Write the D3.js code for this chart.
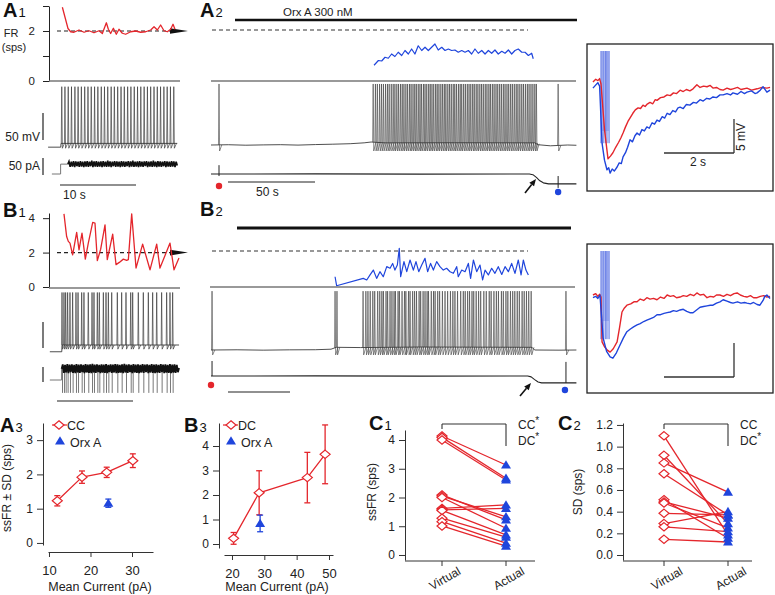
<!DOCTYPE html>
<html><head><meta charset="utf-8">
<script src="https://cdn.jsdelivr.net/npm/d3@7"></script>
<style>body{margin:0;background:#fff}svg{display:block}</style>
</head><body>
<svg id="c" width="775" height="595"></svg>
<script>
// ================= DATA =================
// A1: virtual firing rate (t s, sps), spike times (s), voltage baseline (t, mV), injected current (t, pA)
const a1FR = [[0.18,2.95],[0.92,2.1],[1.27,1.97],[1.71,1.95],[2.37,2.04],[3.03,1.95],[3.68,2.01],[4.34,1.93],[5.0,2.01],[5.44,1.9],[5.97,2.33],[6.23,2.07],[6.53,1.9],[6.89,2.11],[7.28,1.87],[7.63,2.07],[8.07,1.91],[8.51,1.87],[9.17,1.97],[9.82,2.0],[10.48,1.95],[11.14,1.97],[11.8,2.04],[12.24,2.17],[12.68,2.04],[13.11,2.24],[13.55,2.01],[13.99,1.97],[14.43,2.07],[14.74,2.27],[15.0,2.07]];
const a1Spikes = [0.1,0.52,0.95,1.38,1.83,2.25,2.68,3.12,3.55,3.98,4.42,4.85,5.3,5.72,6.15,6.6,7.02,7.46,7.9,8.33,8.77,9.2,9.64,10.07,10.5,10.94,11.37,11.8,12.24,12.67,13.1,13.54,13.97,14.4,14.84];
const a1VBase = [[-1.7,-4],[-0.03,-4],[0,3],[15.3,3]];
const a1IStep = [[-1.2,0],[-0.05,0],[-0.05,29],[0.9,29]];
const a1INoise = [[0.9,29],[1.05,37],[1.2,21],[1.35,36],[1.5,22],[1.65,38],[1.8,20],[1.95,37],[2.1,23],[2.25,36],[2.4,21],[2.55,38],[2.7,22],[2.85,36],[3.0,20],[3.15,37],[3.3,22],[3.45,38],[3.6,21],[3.75,36],[3.9,23],[4.05,39],[4.2,20],[4.35,37],[4.5,22],[4.65,38],[4.8,21],[4.95,36],[5.1,22],[5.25,37],[5.4,20],[5.55,38],[5.7,22],[5.85,36],[6.0,21],[6.15,39],[6.3,22],[6.45,37],[6.6,20],[6.75,36],[6.9,23],[7.05,38],[7.2,21],[7.35,37],[7.5,22],[7.65,36],[7.8,20],[7.95,38],[8.1,22],[8.25,37],[8.4,21],[8.55,36],[8.7,23],[8.85,38],[9.0,20],[9.15,37],[9.3,22],[9.45,39],[9.6,21],[9.75,36],[9.9,22],[10.05,37],[10.2,20],[10.35,38],[10.5,22],[10.65,36],[10.8,21],[10.95,37],[11.1,23],[11.25,38],[11.4,20],[11.55,36],[11.7,22],[11.85,37],[12.0,21],[12.15,39],[12.3,22],[12.45,36],[12.6,20],[12.75,38],[12.9,22],[13.05,37],[13.2,21],[13.35,36],[13.5,23],[13.65,38],[13.8,20],[13.95,37],[14.1,22],[14.25,36],[14.4,21],[14.55,38],[14.7,22],[14.85,37],[15.0,20],[15.15,36],[15.3,25]];

// A2: actual firing rate with Orx A
const a2FR = [[93.7,0.63],[96.2,0.82],[98.1,0.8],[100,0.95],[101.9,0.91],[103.8,1.08],[105.7,0.98],[107.6,1.15],[109.6,1.02],[111.5,1.22],[113.4,1.08],[115.3,1.28],[117.2,1.08],[119.1,1.41],[121.1,1.22],[123,1.35],[124.9,1.22],[126.8,1.35],[128.7,1.48],[130.6,1.24],[132.6,1.35],[134.5,1.22],[136.4,1.28],[138.3,1.22],[140.2,1.24],[142.1,1.15],[144.1,1.22],[146,1.15],[147.9,1.22],[149.8,1.08],[151.7,1.28],[153.6,1.11],[155.6,1.22],[157.5,1.08],[159.4,1.22],[161.3,1.11],[163.2,1.24],[165.1,1.08],[167.1,1.19],[169,1.11],[170.9,1.24],[172.8,1.08],[174.7,1.22],[176.6,1.28],[178.6,1.15],[180.5,1.15],[182.4,1.02],[184.3,1.11],[185.2,0.89]];
const a2Spikes = [4.6,93.2,94.5,95.6,96.9,98.0,99.1,100.3,101.4,102.4,103.6,104.7,105.7,106.8,107.8,108.9,109.9,110.9,112.0,113.0,114.1,115.0,116.1,117.1,118.0,119.1,120.1,121.0,122.1,123.0,124.0,125.1,126.0,127.0,128.0,129.1,130.0,131.0,132.1,133.1,134.1,135.0,136.1,137.1,138.1,139.2,140.1,141.1,142.2,143.2,144.1,145.2,146.2,147.3,148.3,149.3,150.4,151.3,152.4,153.4,154.5,155.5,156.5,157.6,158.6,159.7,160.6,161.7,162.7,163.8,164.8,165.9,166.9,168.0,169.0,170.1,171.1,172.2,173.2,174.3,175.4,176.4,177.5,178.6,179.6,180.7,181.8,182.8,183.9,185.0,186.1,187.0,199.5];
const a2VBase = [[0,0],[10,0.5],[20,-0.4],[30,0.2],[40,0.6],[50,-0.2],[60,0.8],[70,1.5],[80,2.4],[88,4],[92,5.5],[100,4],[140,4.2],[186,4],[188,0.5],[195,-1.5],[205,0],[210,-0.5]];
const a2I = [[0,0],[60,0.5],[120,-0.5],[183,0],[185,-2],[187,-10],[189,-20],[191,-26],[194,-29],[210,-29]];
const a2IArtifacts = [[4.6,26,-6],[199.5,-6,-41]];

// B1
const b1FR = [[0.26,4.25],[0.61,2.93],[0.83,2.65],[1.05,2.55],[1.4,1.87],[1.93,3.17],[2.24,2.16],[2.63,3.13],[3.07,1.62],[3.46,2.55],[4.04,3.75],[4.34,3.71],[4.65,1.53],[5.09,2.2],[5.66,3.61],[5.96,1.59],[6.67,3.07],[7.11,1.3],[7.54,1.43],[8.07,1.62],[8.51,1.55],[8.73,1.59],[9.17,4.25],[9.74,1.1],[10.61,2.49],[11.58,1.0],[12.46,2.49],[12.89,1.1],[14.21,2.55],[14.74,1.0],[15.39,1.68]];
const b1Spikes = [0.0,0.26,0.48,0.74,1.05,1.4,1.84,2.11,2.59,2.89,3.46,3.95,4.21,4.65,4.91,5.44,5.79,6.1,6.54,7.28,7.85,8.42,9.04,9.3,10.04,10.7,11.36,11.93,12.46,13.11,13.77,14.21,14.56];
const b1VBase = [[-1.6,-13],[-0.03,-13],[0,0],[15.4,0]];
const b1IStep = [[-1.6,0],[-0.05,0],[-0.05,37]];
const b1INoise = [[-0.05,37],[0.1,52],[0.25,24],[0.4,50],[0.55,25],[0.7,53],[0.85,23],[1.0,51],[1.15,26],[1.3,52],[1.45,24],[1.6,50],[1.75,23],[1.9,53],[2.05,25],[2.2,51],[2.35,24],[2.5,52],[2.65,26],[2.8,50],[2.95,23],[3.1,53],[3.25,25],[3.4,51],[3.55,24],[3.7,52],[3.85,23],[4.0,54],[4.15,25],[4.3,51],[4.45,24],[4.6,52],[4.75,26],[4.9,50],[5.05,23],[5.2,52],[5.35,25],[5.5,51],[5.65,24],[5.8,53],[5.95,23],[6.1,50],[6.25,26],[6.4,52],[6.55,24],[6.7,51],[6.85,25],[7.0,53],[7.15,23],[7.3,52],[7.45,24],[7.6,50],[7.75,25],[7.9,52],[8.05,23],[8.2,54],[8.35,25],[8.5,51],[8.65,24],[8.8,52],[8.95,26],[9.1,50],[9.25,23],[9.4,53],[9.55,25],[9.7,51],[9.85,24],[10.0,52],[10.15,23],[10.3,50],[10.45,25],[10.6,53],[10.75,24],[10.9,51],[11.05,26],[11.2,52],[11.35,23],[11.5,50],[11.65,25],[11.8,53],[11.95,24],[12.1,51],[12.25,23],[12.4,52],[12.55,25],[12.7,50],[12.85,24],[13.0,53],[13.15,26],[13.3,51],[13.45,23],[13.6,52],[13.75,25],[13.9,50],[14.05,24],[14.2,53],[14.35,23],[14.5,51],[14.65,25],[14.8,52],[14.95,24],[15.1,50],[15.25,26],[15.4,40]];
const b1IArtifact = -43;

// B2
const b2FR = [[71.3,0.57],[72.2,0.07],[87.5,0.48],[89.5,0.39],[91.4,0.67],[93.3,0.94],[95.2,0.48],[97.1,0.85],[99,0.57],[101,1.13],[102.9,1.04],[104.4,1.31],[105.7,0.94],[107.1,1.22],[108.2,2.15],[109,0.57],[110.9,1.41],[112.5,0.85],[114.4,1.5],[116.3,0.94],[117.8,1.41],[119.4,0.85],[121.1,1.22],[123,1.59],[124.5,0.85],[126.2,1.31],[127.8,0.94],[129.7,1.41],[131.6,1.13],[133.5,0.94],[135.4,1.04],[137.4,0.85],[139.3,0.76],[141.2,1.13],[142.1,0.57],[144.1,0.94],[146,0.85],[147.9,1.31],[149.2,0.48],[150.8,1.5],[152.7,0.85],[154.6,1.22],[156.1,0.39],[157.5,0.94],[159.4,0.67],[161.3,1.04],[163.2,0.76],[165.1,1.13],[167.1,0.7],[169,1.13],[170.9,0.85],[172.8,1.31],[174.7,0.76],[176.6,1.5],[178.2,0.67],[179.5,1.5],[181,0.94],[182.4,0.67]];
const b2Spikes = [0.6,71.3,72.4,87.4,89.0,90.2,91.5,93.0,94.1,95.8,97.0,98.2,99.1,100.6,101.5,102.9,104.0,105.2,106.0,107.5,108.3,109.8,111.2,112.0,113.5,114.4,115.9,117.0,118.1,119.6,120.5,121.9,123.0,124.2,125.0,126.6,127.9,128.8,130.3,131.4,133.0,134.5,136.0,137.6,139.0,140.2,141.7,143.5,145.0,146.1,147.5,148.6,150.0,151.0,152.4,153.8,155.0,156.8,158.2,159.9,161.0,162.6,164.0,165.2,166.9,168.0,169.5,170.6,172.1,173.4,174.6,176.0,177.2,178.8,180.0,181.3,182.6,184.0,204.0];
const b2VBase = [[0,0],[15,0.4],[30,-0.3],[45,0.3],[60,0.5],[69,1.5],[72,5],[86,4.5],[120,5.5],[184.5,5],[186,0],[200,-0.3],[210,0]];
const b2I = [[0,0],[60,0.4],[120,-0.4],[182,0],[184,-3],[186,-12],[188,-20],[190,-23],[210,-23]];
const b2IArtifacts = [[0.6,50,0],[204,47,-23]];

// Insets: averaged post-burst AHP (t s, mV), virtual (red) vs actual (blue)
const stimTimes = [0.2,0.26,0.32,0.37,0.43];
const insARed = [[-0.03,0],[0.05,0.4],[0.11,0.2],[0.16,0.5],[0.2,-0.3],[0.3,-7],[0.4,-11.3],[0.47,-10.9],[0.54,-10.4],[0.62,-9.6],[0.7,-8.9],[0.77,-8.2],[0.83,-7.5],[0.9,-6.6],[0.97,-5.8],[1.04,-5.2],[1.11,-4.6],[1.18,-4.1],[1.26,-3.8],[1.33,-3.9],[1.4,-3.4],[1.46,-3.6],[1.51,-3.3],[1.6,-3.0],[1.68,-3.2],[1.75,-2.6],[1.8,-2.7],[1.9,-2.3],[2.0,-2.2],[2.09,-1.9],[2.18,-2.0],[2.27,-1.6],[2.36,-1.7],[2.46,-1.2],[2.55,-1.4],[2.64,-1.1],[2.74,-1.3],[2.83,-1.0],[2.94,-0.4],[3.03,-0.8],[3.13,-0.6],[3.23,-0.7],[3.32,-0.5],[3.4,-0.9],[3.5,-0.8],[3.6,-1.1],[3.69,-1.2],[3.8,-0.9],[3.9,-1.1],[3.97,-1.0],[4.1,-0.8],[4.2,-1.1],[4.37,-0.9],[4.5,-1.2],[4.66,-1.0],[4.8,-0.8],[4.94,-0.9],[5.03,-0.8]];
const insABlue = [[-0.03,-0.9],[0.04,-0.5],[0.11,-0.1],[0.16,-0.6],[0.23,-9.0],[0.3,-11.5],[0.37,-12.9],[0.42,-12.6],[0.46,-13.4],[0.52,-12.8],[0.58,-13.1],[0.66,-12.5],[0.72,-11.9],[0.78,-12.0],[0.83,-11.0],[0.9,-10.4],[0.96,-9.6],[1.03,-8.5],[1.1,-8.8],[1.17,-7.9],[1.23,-7.5],[1.3,-7.8],[1.37,-7.0],[1.44,-7.2],[1.51,-6.6],[1.58,-6.8],[1.66,-6.0],[1.73,-6.2],[1.8,-5.6],[1.87,-5.8],[1.95,-5.1],[2.02,-5.3],[2.09,-4.6],[2.17,-4.8],[2.25,-4.2],[2.33,-4.4],[2.4,-3.8],[2.46,-3.7],[2.55,-3.9],[2.64,-3.3],[2.74,-3.4],[2.84,-3.0],[2.93,-3.1],[3.03,-2.6],[3.12,-2.8],[3.22,-2.4],[3.31,-2.5],[3.4,-2.2],[3.5,-2.3],[3.6,-1.9],[3.69,-1.9],[3.8,-1.7],[3.9,-1.9],[3.97,-1.6],[4.1,-1.8],[4.2,-1.4],[4.3,-1.7],[4.37,-1.5],[4.5,-1.3],[4.6,-1.7],[4.66,-1.6],[4.75,-1.2],[4.83,-0.7],[4.9,-1.2],[4.94,-1.5],[5.03,-1.2]];
const insBRed = [[-0.03,0],[0.05,0.2],[0.11,-0.2],[0.16,0.1],[0.2,-0.3],[0.23,-6.9],[0.3,-7.6],[0.38,-8.1],[0.46,-8.4],[0.55,-7.9],[0.66,-6.9],[0.73,-4.8],[0.8,-2.5],[0.87,-1.9],[0.94,-1.5],[1.05,-1.3],[1.14,-1.0],[1.23,-1.0],[1.32,-0.6],[1.42,-0.8],[1.51,-0.4],[1.6,-0.6],[1.7,-0.5],[1.8,-0.7],[1.9,-0.3],[2.0,-0.5],[2.09,0],[2.18,-0.2],[2.27,-0.1],[2.36,-0.4],[2.46,-0.3],[2.55,-0.1],[2.65,-0.2],[2.75,0.1],[2.85,-0.1],[2.94,0.3],[3.03,0.0],[3.13,0.1],[3.23,-0.4],[3.32,-0.2],[3.42,-0.3],[3.5,0],[3.6,0],[3.7,-0.2],[3.8,0.1],[3.9,-0.1],[4.0,0.2],[4.09,0.3],[4.18,0],[4.28,-0.2],[4.37,-0.3],[4.47,-0.1],[4.56,-0.4],[4.66,-0.4],[4.75,-0.2],[4.85,-0.1],[4.94,-0.3],[5.03,-0.2]];
const insBBlue = [[-0.03,-0.4],[0.05,-0.2],[0.11,-0.5],[0.17,0],[0.26,-6.3],[0.36,-8.3],[0.46,-9.1],[0.54,-9.3],[0.64,-8.5],[0.74,-7.4],[0.84,-6.3],[0.94,-5.4],[1.04,-5.0],[1.13,-4.7],[1.23,-4.4],[1.32,-4.2],[1.42,-3.9],[1.51,-3.7],[1.6,-3.5],[1.7,-3.3],[1.8,-2.9],[1.9,-2.9],[2.0,-2.7],[2.09,-2.6],[2.18,-2.5],[2.27,-2.3],[2.36,-2.4],[2.46,-2.2],[2.55,-2.1],[2.65,-2.4],[2.74,-2.6],[2.83,-2.6],[2.93,-2.2],[3.03,-1.8],[3.13,-1.7],[3.23,-1.6],[3.32,-1.5],[3.4,-1.5],[3.5,-1.2],[3.6,-1.0],[3.69,-0.7],[3.8,-0.9],[3.9,-1.1],[3.97,-1.2],[4.1,-1.0],[4.2,-1.2],[4.3,-1.1],[4.37,-1.2],[4.47,-1.3],[4.56,-1.1],[4.66,-1.4],[4.74,-1.5],[4.83,-0.8],[4.88,-0.2],[4.94,0],[5.03,-0.5]];

// A3 / B3: [mean current pA, ssFR sps, SD]
const a3CC  = [[12.0,1.23,0.15],[17.95,1.92,0.18],[23.9,2.06,0.15],[30.2,2.40,0.2]];
const a3Orx = [[24.3,1.16,0.12]];
const b3DC  = [[20.5,0.23,0.24],[28.4,2.09,0.9],[43.3,2.71,1.03],[48.8,3.66,1.2]];
const b3Orx = [[28.7,0.84,0.34]];
// C1 / C2: [virtual, actual]
const conds = ["Virtual","Actual"];
const c1Pairs = [[4.14,3.13],[4.09,2.67],[4.0,2.61],[2.09,1.22],[2.05,1.33],[2.0,0.93],[1.62,1.74],[1.57,1.62],[1.55,0.7],[1.28,0.62],[1.16,0.41],[1.01,0.31]];
const c2Pairs = [[1.1,0.185],[0.92,0.29],[0.85,0.58],[0.75,0.37],[0.51,0.155],[0.49,0.34],[0.48,0.25],[0.385,0.37],[0.29,0.4],[0.26,0.215],[0.145,0.12]];
const a3YTicks=[0,1,2,3], a3XTicks=[10,20,30];
const b3YTicks=[0,1,2,3,4], b3XTicks=[20,30,40,50];
const c1YTicks=[0,1,2,3,4], c2YTicks=[0,0.2,0.4,0.6,0.8,1.0,1.2];

// ================= DRAW =================
const FONT = '"Liberation Sans", Arial, Helvetica, sans-serif';
const RED = "#e4262c", BLUE = "#1f45dc", INK = "#222";
const svg = d3.select("#c").attr("font-family", FONT);

function interp(arr, t){
  if (t <= arr[0][0]) return arr[0][1];
  for (let i=1;i<arr.length;i++){ if (t <= arr[i][0]) { const a=arr[i-1], b=arr[i]; return a[1]+(b[1]-a[1])*(t-a[0])/(b[0]-a[0]); } }
  return arr[arr.length-1][1];
}
function path(pts, x, y, stroke, w, join){
  return svg.append("path").attr("d", d3.line().x(d=>x(d[0])).y(d=>y(d[1]))(pts))
    .attr("fill","none").attr("stroke",stroke).attr("stroke-width",w).attr("stroke-linejoin",join||"round");
}
function seg(x1,y1,x2,y2,stroke,w,dash){
  const l = svg.append("line").attr("x1",x1).attr("y1",y1).attr("x2",x2).attr("y2",y2).attr("stroke",stroke).attr("stroke-width",w);
  if (dash) l.attr("stroke-dasharray",dash);
  return l;
}
function text(x,y,s,size,opt){
  opt = opt||{};
  const t = svg.append("text").attr("x",x).attr("y",y).attr("font-size",size).attr("fill",opt.fill||INK).text(s);
  if (opt.anchor) t.attr("text-anchor",opt.anchor);
  if (opt.weight) t.attr("font-weight",opt.weight);
  if (opt.rotate!==undefined) t.attr("transform",`rotate(${opt.rotate},${x},${y})`);
  return t;
}
function panelLabel(x,y,L,n){
  const t = svg.append("text").attr("x",x).attr("y",y).attr("fill","#111");
  t.append("tspan").attr("font-size",20).attr("font-weight","bold").text(L);
  t.append("tspan").attr("font-size",13).attr("dx",1).text(n);
}
function voltage(base, spikes, x, y, o){
  path(base, x, y, "#222", 0.8);
  spikes.forEach(t=>{
    const b = interp(base, t);
    const pts = [[t - o.w*0.3, b],[t, o.peak],[t + o.w*0.35, o.trough],[t + o.w*1.6, b]];
    path(pts, x, y, o.color||"#2a2a2a", o.sw||0.7);
  });
}
function arrowHead(x1,y1,x2,y2){
  const a = Math.atan2(y2-y1, x2-x1), L=7, W=3;
  const bx = x2 - L*Math.cos(a), by = y2 - L*Math.sin(a);
  seg(x1,y1,bx,by,"#111",1.6);
  svg.append("path").attr("d",`M${x2},${y2}L${bx - W*Math.sin(a)},${by + W*Math.cos(a)}L${bx + W*Math.sin(a)},${by - W*Math.cos(a)}Z`).attr("fill","#111");
}
function dot(x,y,c){ svg.append("circle").attr("cx",x).attr("cy",y).attr("r",3.2).attr("fill",c); }
function rightTri(x,y){ svg.append("path").attr("d",`M${x},${y-2.8}L${x+18},${y}L${x},${y+2.8}Z`).attr("fill","#111"); }

// ---------- A1 ----------
panelLabel(3,17,"A","1");
const xA1 = d3.scaleLinear().domain([0,10]).range([61,137]);
const yFRA = d3.scaleLinear().domain([0,3]).range([81,6]);
{
  const g = svg.append("g").attr("transform","translate(49,0)")
    .call(d3.axisLeft(yFRA).tickValues([0,1,2,3]).tickSize(6).tickSizeOuter(0).tickPadding(8).tickFormat(d=> (d===0||d===2)? d : ""));
  g.attr("font-size",11.5).attr("font-family",FONT);
  g.selectAll("path,line").attr("stroke","#222");
  g.selectAll("text").attr("fill",INK);
}
seg(49,81,180,81,"#777",1.5);
text(11,37,"FR",11,{anchor:"middle"});
text(14,51,"(sps)",11,{anchor:"middle"});
seg(57,yFRA(2),170,yFRA(2),"#222",1.1,"4,3");
rightTri(170,yFRA(2));
path(a1FR, xA1, yFRA, RED, 1.3);
const yVA1 = d3.scaleLinear().domain([0,50]).range([145,118]);
voltage(a1VBase, a1Spikes, xA1, yVA1, {w:0.22, peak:108, trough:-6, color:"#333", sw:0.65});
seg(43,113,43,140,"#333",1.3);
text(40,141,"50 mV",12,{anchor:"end"});
const yIA1 = d3.scaleLinear().domain([0,50]).range([174,157]);
path(a1IStep, xA1, yIA1, "#777", 1);
path(a1INoise, xA1, yIA1, "#111", 1.6, "miter");
seg(43,158,43,175,"#333",1.3);
text(40,170,"50 pA",12,{anchor:"end"});
seg(xA1(0)-1,185,xA1(10)-1,185,"#222",1.2);
text(63,199,"10 s",12);

// ---------- A2 ----------
panelLabel(200,17,"A","2");
const xA2 = d3.scaleLinear().domain([0,50]).range([211,298]);
seg(235,20,577,20,"#111",2.5);
text(283,16,"Orx A 300 nM",11.5);
seg(212,yFRA(2)-1,528,yFRA(2)-1,"#333",1.1,"4,3");
path(a2FR, xA2, yFRA, BLUE, 1.2);
seg(211,81,576,81,"#777",1.5);
const yVA2 = d3.scaleLinear().domain([0,50]).range([145,118]);
voltage(a2VBase, a2Spikes, xA2, yVA2, {w:1.0, peak:113, trough:-11, sw:0.6, color:"#3a3a3a"});
const yIA2 = d3.scaleLinear().domain([0,50]).range([174,157]);
path(a2I, xA2, yIA2, "#222", 1.1);
a2IArtifacts.forEach(d=> seg(xA2(d[0]),yIA2(d[1]),xA2(d[0]),yIA2(d[2]),"#222",1));
dot(xA2(a2IArtifacts[0][0]),186,RED);
dot(xA2(a2IArtifacts[1][0]),192,BLUE);
seg(228,182,315,182,"#222",1.2);
text(256,196,"50 s",12);
arrowHead(525,193,536,179);

// ---------- Inset A ----------
const xIns = d3.scaleLinear().domain([0,2]).range([594,664]);
const yInsA = d3.scaleLinear().domain([0,5]).range([82,48]);
svg.append("rect").attr("x",587).attr("y",44).attr("width",186).attr("height",147).attr("fill","none").attr("stroke","#222").attr("stroke-width",1.3);
svg.append("rect").attr("x",xIns(0.2)).attr("y",51).attr("width",xIns(0.43)-xIns(0.2)).attr("height",80).attr("fill","#aab5ef").attr("opacity",0.55);
stimTimes.forEach(t=> seg(xIns(t),51,xIns(t),yInsA(-9),"#3a58e0",0.9));
path(insARed, xIns, yInsA, RED, 1.4);
path(insABlue, xIns, yInsA, BLUE, 1.4);
seg(xIns(2),153,xIns(4),153,"#333",1.3);
seg(xIns(4),153,xIns(4),119,"#333",1.3);
text(690,166,"2 s",12);
text(745,137,"5 mV",12,{anchor:"middle",rotate:-90});

// ---------- B1 ----------
panelLabel(3,217,"B","1");
const xB1 = d3.scaleLinear().domain([0,10]).range([62,138]);
const yFRB1 = d3.scaleLinear().domain([0,4.3]).range([287,213]);
{
  const g = svg.append("g").attr("transform","translate(49,0)")
    .call(d3.axisLeft(yFRB1).tickValues([0,2,4]).tickSize(6).tickSizeOuter(0).tickPadding(8).tickFormat(d3.format("d")));
  g.attr("font-size",11.5).attr("font-family",FONT);
  g.selectAll("path,line").attr("stroke","#222");
  g.selectAll("text").attr("fill",INK);
}
seg(49,288,180,288,"#777",1.5);
seg(57,yFRB1(2),170,yFRB1(2),"#222",1.1,"4,3");
rightTri(170,yFRB1(2));
path(b1FR, xB1, yFRB1, RED, 1.3);
const yVB1 = d3.scaleLinear().domain([0,50]).range([345,319]);
voltage(b1VBase, b1Spikes, xB1, yVB1, {w:0.2, peak:101, trough:-8, color:"#333", sw:0.65});
seg(43,322,43,348,"#333",1.3);
const yIB1 = d3.scaleLinear().domain([0,50]).range([380,365]);
path(b1IStep, xB1, yIB1, "#777", 1);
b1Spikes.forEach(t=> seg(xB1(t)+0.5,yIB1(37),xB1(t)+0.5,yIB1(b1IArtifact),"#555",0.8));
path(b1INoise, xB1, yIB1, "#111", 1.8, "miter");
seg(43,367,43,382,"#333",1.3);
seg(57,401,133,401,"#222",1.2);

// ---------- B2 ----------
panelLabel(200,216,"B","2");
const xB2 = d3.scaleLinear().domain([0,50]).range([211,298]);
seg(237,228,571,228,"#111",3);
const yFRB2 = d3.scaleLinear().domain([0,2]).range([287,251]);
seg(212,251,528,251,"#333",1.1,"4,3");
path(b2FR, xB2, yFRB2, BLUE, 1.2);
seg(210,287,575,287,"#777",1.5);
const yVB2 = d3.scaleLinear().domain([0,50]).range([350,323]);
voltage(b2VBase, b2Spikes, xB2, yVB2, {w:1.0, peak:109, trough:-9, sw:0.6, color:"#3a3a3a"});
const yIB2 = d3.scaleLinear().domain([0,50]).range([376,361]);
path(b2I, xB2, yIB2, "#222", 1.1);
b2IArtifacts.forEach(d=> seg(xB2(d[0]),yIB2(d[1]),xB2(d[0]),yIB2(d[2]),"#222",1));
dot(xB2(0),385,RED);
dot(xB2(b2IArtifacts[1][0])-1,390,BLUE);
seg(228,392,290,392,"#222",1.2);
arrowHead(520,396,531,383);

// ---------- Inset B ----------
const yInsB = d3.scaleLinear().domain([0,5]).range([295,261]);
svg.append("rect").attr("x",587).attr("y",244).attr("width",186).attr("height",149).attr("fill","none").attr("stroke","#222").attr("stroke-width",1.3);
svg.append("rect").attr("x",xIns(0.2)).attr("y",251).attr("width",xIns(0.43)-xIns(0.2)).attr("height",70).attr("fill","#aab5ef").attr("opacity",0.55);
stimTimes.forEach(t=> seg(xIns(t),251,xIns(t),yInsB(-6.5),"#3a58e0",0.9));
path(insBRed, xIns, yInsB, RED, 1.4);
path(insBBlue, xIns, yInsB, BLUE, 1.4);
seg(xIns(2),377,xIns(4),377,"#333",1.3);
seg(xIns(4),377,xIns(4),343,"#333",1.3);

// ---------- bottom helpers ----------
function yAxis(scale, ticks, x, fmt){
  const g = svg.append("g").attr("transform",`translate(${x},0)`)
    .call(d3.axisLeft(scale).tickValues(ticks).tickSize(6).tickSizeOuter(0).tickPadding(4).tickFormat(fmt||d3.format("d")));
  g.attr("font-size",12).attr("font-family",FONT);
  g.selectAll("path,line").attr("stroke","#333");
  g.selectAll("text").attr("fill",INK);
}
function xAxis(scale, ticks, y){
  const g = svg.append("g").attr("transform",`translate(0,${y})`)
    .call(d3.axisBottom(scale).tickValues(ticks).tickSize(5).tickSizeOuter(0).tickPadding(9).tickFormat(d3.format("d")));
  g.attr("font-size",13).attr("font-family",FONT);
  g.selectAll("path,line").attr("stroke","#333");
  g.selectAll("text").attr("fill",INK);
}
const diamond = "M0,-4.2L5,0L0,4.2L-5,0Z";
const triangle = "M0,-4.8L5,3.6L-5,3.6Z";
function marker(x,y,shape){
  const p = svg.append("path").attr("transform",`translate(${x},${y})`);
  if (shape==="d") p.attr("d",diamond).attr("fill","#fff").attr("stroke",RED).attr("stroke-width",1.2);
  else p.attr("d",triangle).attr("fill",BLUE);
}
function errBars(data, x, y, color){
  data.forEach(d=>{
    const cx=x(d[0]);
    seg(cx,y(d[1]-d[2]),cx,y(d[1]+d[2]),color,1.3);
    seg(cx-3,y(d[1]-d[2]),cx+3,y(d[1]-d[2]),color,1.3);
    seg(cx-3,y(d[1]+d[2]),cx+3,y(d[1]+d[2]),color,1.3);
  });
}

// ---------- A3 ----------
panelLabel(0,432,"A","3");
const xA3 = d3.scaleLinear().domain([9.76,35.06]).range([48,153]);
const yA3 = d3.scaleLinear().domain([-0.06,3.5]).range([545,423]);
yAxis(yA3, a3YTicks, 43);
xAxis(xA3, a3XTicks, 552);
errBars(a3CC, xA3, yA3, RED);
path(a3CC.map(d=>[d[0],d[1]]), xA3, yA3, RED, 1.3);
a3CC.forEach(d=> marker(xA3(d[0]),yA3(d[1]),"d"));
errBars(a3Orx, xA3, yA3, BLUE);
a3Orx.forEach(d=> marker(xA3(d[0]),yA3(d[1]),"t"));
text(11,488,"ssFR ± SD (sps)",12,{anchor:"middle",rotate:-90});
text(100,591,"Mean Current (pA)",12.5,{anchor:"middle"});
seg(52,425,67,425,RED,1.2); marker(59,425,"d"); text(67,430,"CC",12.5);
marker(60,441,"t"); text(70,447,"Orx A",12.5);

// ---------- B3 ----------
panelLabel(184,432,"B","3");
const xB3 = d3.scaleLinear().domain([17.53,51.24]).range([224,333]);
const yB3 = d3.scaleLinear().domain([-0.163,4.939]).range([548,423]);
yAxis(yB3, b3YTicks, 219);
xAxis(xB3, b3XTicks, 555);
errBars(b3DC, xB3, yB3, RED);
path(b3DC.map(d=>[d[0],d[1]]), xB3, yB3, RED, 1.3);
b3DC.forEach(d=> marker(xB3(d[0]),yB3(d[1]),"d"));
errBars(b3Orx, xB3, yB3, BLUE);
b3Orx.forEach(d=> marker(xB3(d[0]),yB3(d[1]),"t"));
text(277,591,"Mean Current (pA)",12.5,{anchor:"middle"});
seg(223,425,238,425,RED,1.2); marker(231,425,"d"); text(238,430,"DC",12.5);
marker(231,441,"t"); text(241,447,"Orx A",12.5);

// ---------- C1 / C2 ----------
function pairPanel(pairs, y, xLeftAxis, xV, xA, xEnd, yTicks, fmt, ylab, ylabX, labX, stars, lab){
  const x = d3.scalePoint().domain(conds).range([xV,xA]);
  yAxis(y, yTicks, xLeftAxis, fmt);
  seg(xLeftAxis,561,xEnd,561,"#333",1);
  conds.forEach(c=>{
    seg(x(c),561,x(c),566,"#333",1);
    text(x(c)+5,582,c,12,{anchor:"middle",rotate:-30});
  });
  pairs.forEach(p=> seg(x(conds[0]),y(p[0]),x(conds[1]),y(p[1]),RED,1.3));
  pairs.forEach(p=> marker(x(conds[0]),y(p[0]),"d"));
  pairs.forEach(p=> marker(x(conds[1]),y(p[1]),"t"));
  // significance bracket
  seg(xV,424,xA,424,"#333",1.1);
  seg(xV,424,xV,429,"#333",1.1);
  seg(xA,424,xA,446,"#333",1.1);
  stars.forEach((s,i)=>{
    const t = text(labX, 429 + i*16, s[0], 12);
    if (s[1]) t.append("tspan").attr("dy",-5).attr("font-size",10).text("*");
  });
  text(ylabX,492,ylab,12,{anchor:"middle",rotate:-90});
  panelLabel(lab[0],430,lab[1],lab[2]);
}
const yC1 = d3.scaleLinear().domain([-0.174,4.348]).range([560,430]);
pairPanel(c1Pairs, yC1, 405, 442, 506, 535, c1YTicks, d3.format("d"), "ssFR (sps)", 376, 518, [["CC",true],["DC",true]], [369,"C","1"]);
const yC2 = d3.scaleLinear().domain([-0.046,1.218]).range([560,423]);
pairPanel(c2Pairs, yC2, 623, 664, 728, 752, c2YTicks, d3.format(".1f"), "SD (sps)", 582, 740, [["CC",false],["DC",true]], [558,"C","2"]);
</script>
</body></html>
